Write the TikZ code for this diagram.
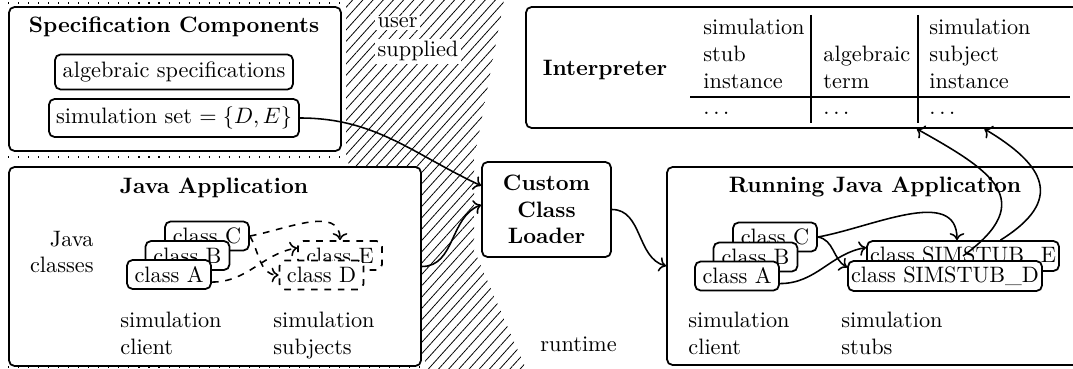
\documentclass[tikz,border=0pt]{standalone}
\usetikzlibrary{patterns.meta,arrows.meta}
\newcommand{\PX}{0.4486pt}
\begin{document}
\begin{tikzpicture}[x=0.4486pt, y=-0.4486pt,
  box/.style={draw, line width=0.8pt, rounded corners=2.5pt, fill=white, inner sep=0pt},
  cls/.style={box, minimum width=84*\PX, minimum height=29*\PX},
  dcls/.style={cls, dashed},
  arr/.style={->, line width=0.7pt},
  darr/.style={arr, dashed},
  lbl/.style={anchor=base west, inner sep=0pt},
  ttl/.style={font=\bfseries, inner sep=0pt},
  rule/.style={line width=0.8pt}]
\useasboundingbox (0,0) rectangle (1073,369);
\clip (0,0) rectangle (1073,369);

% hatched band
\fill[pattern={Lines[angle=48,distance=3.4pt,line width=0.35pt]}]
  (346,0) -- (504,0) -- (474,160) -- (474,250) -- (526,369) -- (428,369) -- (346,157) -- cycle;
% dotted region borders
\draw[line width=0.5pt, dash pattern=on 0.5pt off 4pt] (8,3) -- (341,3);
\draw[line width=0.5pt, dash pattern=on 0.5pt off 4pt] (8,157) -- (346,157);
\draw[line width=0.5pt, dash pattern=on 0.5pt off 4pt] (8,367) -- (421,367);

\node[lbl, fill=white, inner sep=1pt] (user) at (375,28) {user};
\node[lbl, fill=white, inner sep=1pt] (supplied) at (375,57) {supplied};
\node[lbl] (runtime) at (540,351) {runtime};

% Specification components
\node[box, minimum width=332*\PX, minimum height=144*\PX] (spec) at (175,79) {};
\node[ttl] (spect) at (174,27) {Specification Components};
\node[box, minimum width=238*\PX, minimum height=35*\PX] (alg) at (174,72) {algebraic specifications};
\node[box, minimum width=250*\PX, minimum height=38*\PX] (simset) at (174,118) {simulation set $=\{D,E\}$};

% Java application
\node[box, minimum width=412*\PX, minimum height=199*\PX] (japp) at (215,266.5) {};
\node[ttl] (jappt) at (214,188) {Java Application};
\node[align=right, anchor=east, inner sep=0pt] (jcls) at (94,252) {Java\\classes};
\node[dcls] (E) at (340,255.5) {class E};
\node[dcls] (D) at (321.5,275) {class D};
\node[cls] (C) at (207,236) {class C};
\node[cls] (B) at (187.5,255.5) {class B};
\node[cls] (A) at (169,274.5) {class A};
\node[lbl] (sc1) at (120,327) {simulation};
\node[lbl] (sc2) at (120,354) {client};
\node[lbl] (ss1) at (273,327) {simulation};
\node[lbl] (ss2) at (273,354) {subjects};

% Custom class loader
\node[box, minimum width=129*\PX, minimum height=95*\PX, align=center, font=\bfseries] (ccl) at (546.5,209.5) {Custom\\Class\\Loader};

% Interpreter
\node[box, minimum width=560*\PX, minimum height=121*\PX] (interp) at (806,67.5) {};
\node[ttl] (interpt) at (605,70) {Interpreter};
\draw[rule] (811,15) -- (811,123);
\draw[rule] (918,15) -- (918,123);
\draw[rule] (690,97) -- (1070,97);
\node[lbl] (t11) at (703,35) {simulation};
\node[lbl] (t12) at (703,62) {stub};
\node[lbl] (t13) at (703,89) {instance};
\node[lbl] (t22) at (823,62) {algebraic};
\node[lbl] (t23) at (823,89) {term};
\node[lbl] (t31) at (929,35) {simulation};
\node[lbl] (t32) at (929,62) {subject};
\node[lbl] (t33) at (929,89) {instance};
\node[lbl] (d1) at (703,115) {$\ldots$};
\node[lbl] (d2) at (823,115) {$\ldots$};
\node[lbl] (d3) at (929,115) {$\ldots$};

% Running Java application
\node[box, minimum width=416*\PX, minimum height=198*\PX] (rapp) at (875,266) {};
\node[ttl] (rappt) at (875,187) {Running Java Application};
\node[box, minimum width=192*\PX, minimum height=30*\PX] (rE) at (963,256) {class SIMSTUB\_E};
\node[box, minimum width=194*\PX, minimum height=30*\PX] (rD) at (945,276) {class SIMSTUB\_D};
\node[cls] (rC) at (775,237) {class C};
\node[cls] (rB) at (755.5,257) {class B};
\node[cls] (rA) at (737,276) {class A};
\node[lbl] (rc1) at (688,327) {simulation};
\node[lbl] (rc2) at (688,354) {client};
\node[lbl] (rs1) at (841,327) {simulation};
\node[lbl] (rs2) at (841,354) {stubs};

% connectors
\draw[arr] (simset.east) to[out=0, in=155] (ccl.160);
\draw[arr] (japp.east) to[out=0, in=200] (ccl.176);
\draw[arr] (ccl.east) to[out=0, in=165] (rapp.west);

\draw[darr] (C.east) to[out=10, in=90] (E.north);
\draw[darr] (C.east) to[out=-60, in=180] (D.west);
\draw[darr] (A.-10) to[out=0, in=190] (E.170);

\draw[arr] (rC.east) to[out=10, in=90] ([xshift=-2.7pt]rE.north);
\draw[arr] (rC.east) to[out=-10, in=150] (rD.175);
\draw[arr] (rA.-10) to[out=0, in=190] (rE.175);
\draw[arr] (rE.center) .. controls (1040,200) and (990,170) .. (interp.-29);
\draw[arr] (rE.23) .. controls (1065,200) and (1045,165) .. (interp.-19.4);
\end{tikzpicture}
\end{document}
